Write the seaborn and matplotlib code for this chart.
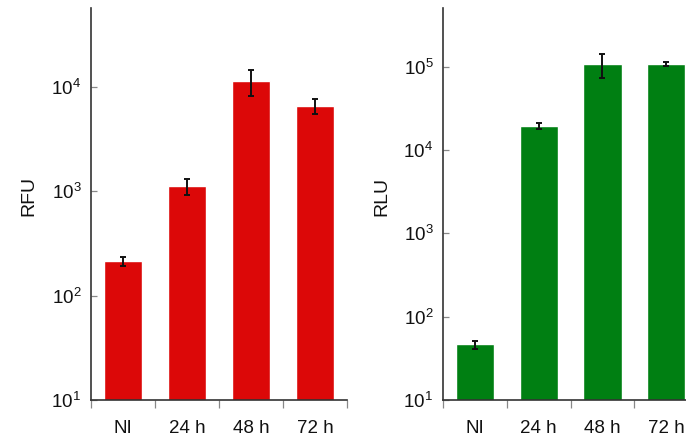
import matplotlib
matplotlib.use("Agg")
import matplotlib.pyplot as plt
import seaborn as sns
import numpy as np
import pandas as pd

# Time points after infection
categories = ["NI", "24 h", "48 h", "72 h"]

# Fluorescence (RFU): means and error values
rfu_values = [214, 1120, 11300, 6550]
rfu_errors = [23, 200, 3200, 1050]

# Luminescence (RLU): means and error values
rlu_values = [46.5, 19500, 107000, 107000]
rlu_errors = [5, 1800, 34000, 5500]

red = "#dc0808"
green = "#007f12"

sns.set_theme(style="white")
plt.rcParams["font.family"] = ["Liberation Sans", "DejaVu Sans"]
plt.rcParams["mathtext.fontset"] = "custom"
plt.rcParams["mathtext.rm"] = "Liberation Sans"
plt.rcParams["mathtext.it"] = "Liberation Sans:italic"
plt.rcParams["mathtext.bf"] = "Liberation Sans:bold"

fig = plt.figure(figsize=(6.86, 4.40), dpi=100)
W, H = 686, 440


def panel(left_px, right_px, values, errors, color, ylabel, ytop):
    ax = fig.add_axes([left_px / W, (H - 400) / H,
                       (right_px - left_px) / W, (400 - 8) / H])
    df = pd.DataFrame({"cat": categories, "val": values})
    sns.barplot(data=df, x="cat", y="val", order=categories, color=color,
                saturation=1, width=0.6, ax=ax, errorbar=None)
    ax.errorbar(np.arange(len(categories)), values, yerr=errors, fmt="none",
                ecolor="#111111", elinewidth=1.4, capsize=2.5, capthick=1.4,
                zorder=5)
    ax.set_yscale("log")
    ax.set_ylim(10, ytop)
    ax.set_xlim(-0.5, len(categories) - 0.5)
    ax.minorticks_off()
    ax.set_yticks([10 ** k for k in range(1, int(np.log10(ytop)) + 1)])
    ax.tick_params(axis="y", which="major", direction="in", length=4.5,
                   width=0.9, color="#888888", labelsize=13.5, pad=7,
                   labelcolor="#111111", left=True)
    # boundary ticks between categories on the x axis
    ax.set_xticks(np.arange(-0.5, len(categories), 1.0), minor=True)
    ax.tick_params(axis="x", which="minor", direction="out", length=6,
                   width=0.9, color="#888888", bottom=True)
    ax.tick_params(axis="x", which="major", length=0, labelsize=13.5,
                   pad=14.5, labelcolor="#111111")
    ax.set_xlabel("")
    ax.set_ylabel(ylabel, fontsize=14, color="#111111")
    ax.yaxis.set_label_coords(-0.208, 0.52)
    for s in ("top", "right"):
        ax.spines[s].set_visible(False)
    for s in ("left", "bottom"):
        ax.spines[s].set_color("#333333")
        ax.spines[s].set_linewidth(1.2)
    return ax


panel(91, 347, rfu_values, rfu_errors, red, "RFU", 57000)
panel(443, 698, rlu_values, rlu_errors, green, "RLU", 507000)

fig.savefig("out.png", dpi=100)
